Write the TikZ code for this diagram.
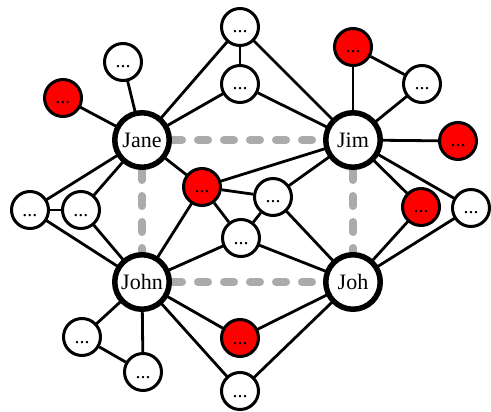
\documentclass[tikz,border=0pt]{standalone}
\usepackage{fontspec}
\setmainfont{Liberation Serif}
\usetikzlibrary{backgrounds}
\begin{document}
\begin{tikzpicture}[x=1pt,y=-1pt,
  mainnode/.style={circle,draw=black,line width=5.5pt,minimum size=54.5pt,inner sep=0pt,fill=white,font=\fontsize{22}{24}\selectfont},
  smallnode/.style={circle,draw=black,line width=3pt,minimum size=37pt,inner sep=0pt,fill=white,font=\fontsize{20}{22}\selectfont,text height=14pt,text depth=2pt},
  rednode/.style={smallnode,fill=red},
  link/.style={line width=2.8pt},
  tie/.style={line width=8pt,color=black!33,line cap=round,dash pattern=on 10pt off 16pt}
]
\useasboundingbox (0,0) rectangle (491,412);
% main nodes
\node[mainnode] (jane) at (142,140) {Jane};
\node[mainnode] (jim) at (353,140) {Jim};
\node[mainnode] (john) at (142,282) {John};
\node[mainnode] (joh) at (353,282) {Joh};
% small nodes
\node[smallnode] (t1) at (240,27) {...};
\node[smallnode] (t2) at (240,84) {...};
\node[smallnode] (w1) at (123,62) {...};
\node[rednode] (r1) at (63,98) {...};
\node[rednode] (rj1) at (353,47) {...};
\node[smallnode] (wj1) at (422,84) {...};
\node[rednode] (rj2) at (458,141) {...};
\node[rednode] (rj3) at (421,207) {...};
\node[smallnode] (wj2) at (471,208) {...};
\node[smallnode] (l1) at (30,210) {...};
\node[smallnode] (l2) at (81,210) {...};
\node[rednode] (rc) at (202,187) {...};
\node[smallnode] (c1) at (273,197) {...};
\node[smallnode] (c2) at (241,238) {...};
\node[smallnode] (b1) at (82,337) {...};
\node[smallnode] (b2) at (143,372) {...};
\node[rednode] (rb) at (240,338) {...};
\node[smallnode] (wb) at (240,391) {...};
\begin{scope}[on background layer]
% dashed ties between main nodes
\draw[tie] (jane) -- (jim);
\draw[tie] (jane) -- (john);
\draw[tie] (jim) -- (joh);
\draw[tie] (john) -- (joh);
% Jane
\draw[link] (jane.center) -- (r1.center);
\draw[link] (jane.center) -- (w1.center);
\draw[link] (jane.center) -- (t1.center);
\draw[link] (jane.center) -- (t2.center);
\draw[link] (jane.center) -- (l1.center);
\draw[link] (jane.center) -- (l2.center);
\draw[link] (jane.center) -- (rc.center);
% Jim
\draw[link] (jim.center) -- (t1.center);
\draw[link] (jim.center) -- (t2.center);
\draw[link] (jim.center) -- (rj1.center);
\draw[link] (jim.center) -- (wj1.center);
\draw[link] (jim.center) -- (rj2.center);
\draw[link] (jim.center) -- (rj3.center);
\draw[link] (jim.center) -- (wj2.center);
\draw[link] (jim.center) -- (rc.center);
\draw[link] (jim.center) -- (c1.center);
% John
\draw[link] (john.center) -- (l1.center);
\draw[link] (john.center) -- (l2.center);
\draw[link] (john.center) -- (rc.center);
\draw[link] (john.center) -- (c2.center);
\draw[link] (john.center) -- (b1.center);
\draw[link] (john.center) -- (b2.center);
\draw[link] (john.center) -- (rb.center);
\draw[link] (john.center) -- (wb.center);
% Joh
\draw[link] (joh.center) -- (c1.center);
\draw[link] (joh.center) -- (c2.center);
\draw[link] (joh.center) -- (rj3.center);
\draw[link] (joh.center) -- (wj2.center);
\draw[link] (joh.center) -- (rb.center);
\draw[link] (joh.center) -- (wb.center);
% among small nodes
\draw[link] (t1) -- (t2);
\draw[link] (rj1) -- (wj1);
\draw[link] (l1) -- (l2);
\draw[link] (b1) -- (b2);
\draw[link] (rc) -- (c1);
\draw[link] (rc) -- (c2);
\draw[link] (c1) -- (c2);
\end{scope}
\end{tikzpicture}
\end{document}
